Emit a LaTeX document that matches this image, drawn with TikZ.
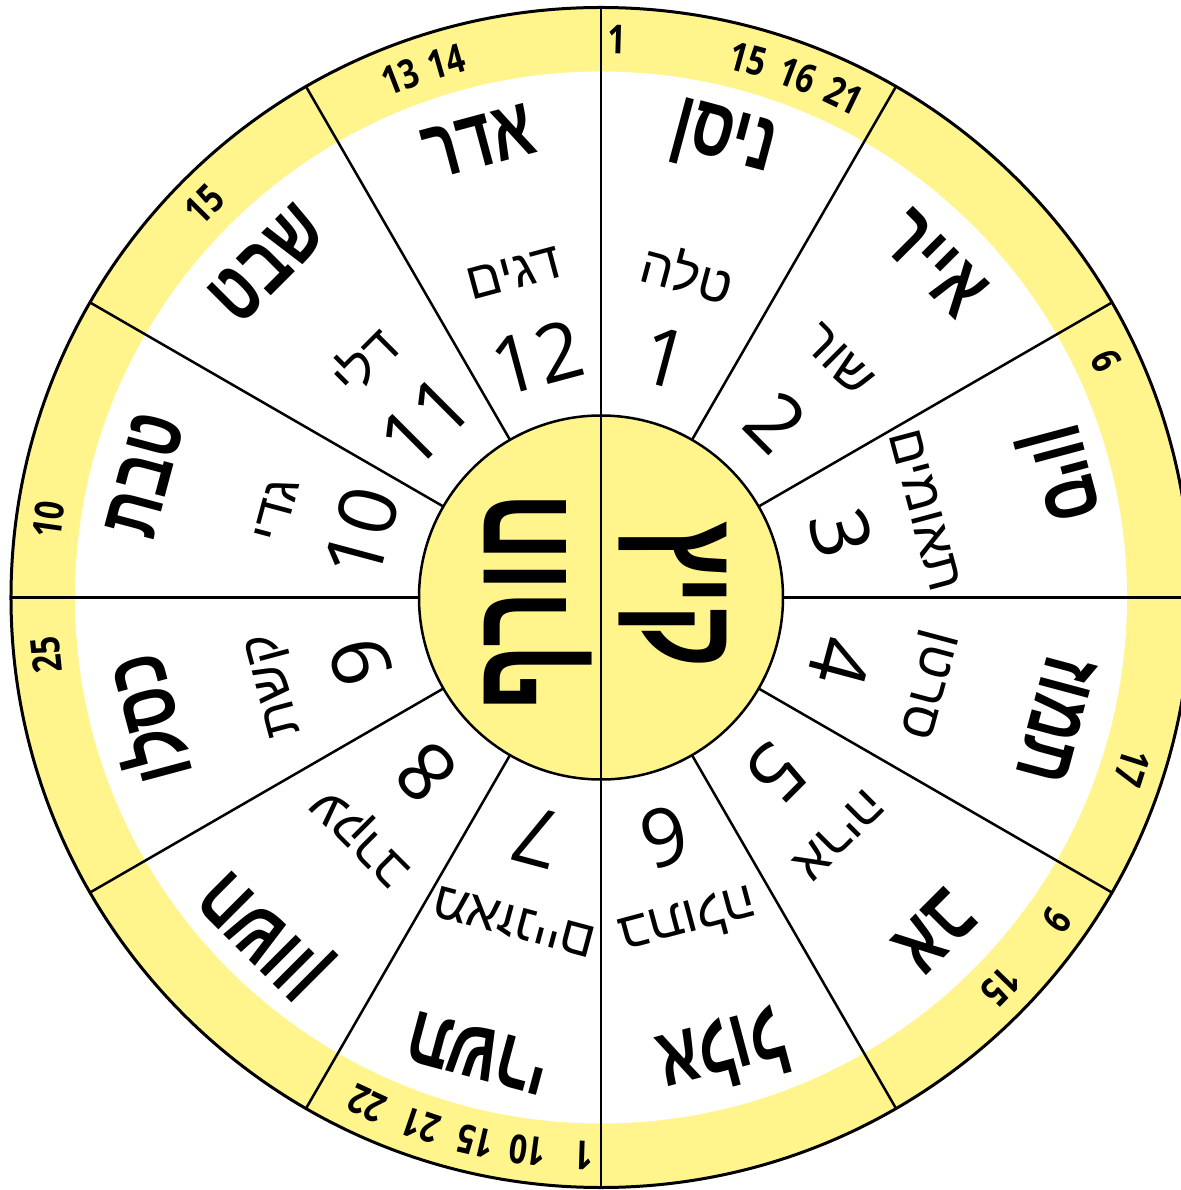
\documentclass[tikz,border=0pt]{standalone}
\usepackage{fontspec}
\setmainfont{Liberation Sans}
\newfontfamily\monthfont[Script=Hebrew,FakeStretch=0.72]{Liberation Sans}
\newfontfamily\signfont[Script=Hebrew]{Liberation Sans}
\newfontfamily\numfont{Open Sans}
\newfontfamily\dayfont[FakeStretch=0.8]{Open Sans}
\TeXXeTstate=1
\definecolor{wheelyellow}{HTML}{FFF58C}

\begin{document}
\begin{tikzpicture}[x=1pt, y=1pt,
  month/.style={font=\monthfont\bfseries\fontsize{84}{84}\selectfont, inner sep=0pt},
  sign/.style={font=\signfont\fontsize{52}{52}\selectfont, inner sep=0pt},
  num/.style={font=\numfont\fontsize{80}{80}\selectfont, inner sep=0pt},
  daynum/.style={font=\dayfont\bfseries\fontsize{40}{40}\selectfont, inner sep=0pt},
  season/.style={font=\monthfont\bfseries\fontsize{136}{136}\selectfont, inner sep=0pt},
  spoke/.style={line width=2.5pt}
]
\useasboundingbox (-601,-592.5) rectangle (579,597.5);
% rings
\fill[wheelyellow] (0,0) circle (590);
\fill[white] (0,0) circle (526);
\draw[line width=3pt] (0,0) circle (590);
\foreach \a in {0,30,...,330}
  \draw[spoke] (\a:182) -- (\a:590);
\filldraw[fill=wheelyellow, line width=2.5pt] (0,0) circle (182);
\draw[spoke] (0,590) -- (0,-590);
% months
\foreach \a/\name [count=\i] in {75/ניסן, 45/אייר, 15/סיון, -15/תמוז, -45/אב, -75/אלול,
    -105/תשרי, -135/חשוון, -165/כסלו, 165/טבת, 135/שבט, 105/אדר}
  \node[month, rotate=\a-90] (month\i) at (\a:472) {\beginR\name\endR};
% zodiac signs
\foreach \a/\name [count=\i] in {75/טלה, 45/שור, 15/תאומים, -15/סרטן, -45/אריה, -75/בתולה,
    -105/מאזניים, -135/עקרב, -165/קשת, 165/גדי, 135/דלי, 105/דגים}
  \node[sign, rotate=\a-90] (sign\i) at (\a:336) {\beginR\name\endR};
% numbers
\foreach \a [count=\i] in {75,45,...,-255}
  \node[num, rotate=\a-90] (num\i) at (\a:248) {\i};
% days in the outer band
\foreach \a/\d [count=\i] in {88.4/1, 74.7/15, 69.4/16, 64.2/21, 111.1/13, 106.1/14,
    135.3/15, 172/10, 185.9/25, 268.2/1, 262.4/10, 257/15, 251.2/21, 245.2/22,
    -35.3/9, -44.2/15, -17.8/17, 25.1/6}
  \node[daynum, rotate=\a-90] (day\i) at (\a:558) {\d};
% seasons
\node[season, rotate=-90] (summer) at (72,2.5) {\beginR קיץ\endR};
\node[season, rotate=90] (winter) at (-63,-4.5) {\beginR חורף\endR};
\end{tikzpicture}
\end{document}
